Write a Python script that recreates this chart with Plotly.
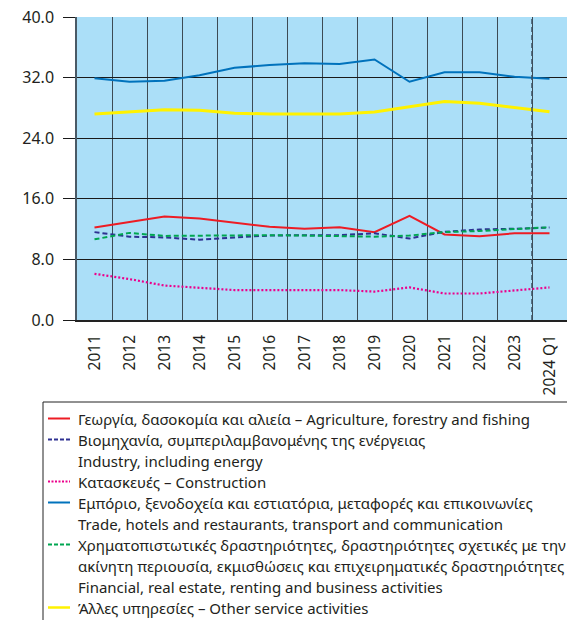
import plotly.graph_objects as go

categories = ["2011", "2012", "2013", "2014", "2015", "2016", "2017", "2018",
              "2019", "2020", "2021", "2022", "2023", "2024 Q1"]

agriculture = [12.2, 12.9, 13.65, 13.4, 12.8, 12.3, 12.05, 12.25, 11.6, 13.75, 11.3, 11.05, 11.45, 11.45]
industry = [11.6, 11.0, 10.9, 10.6, 10.9, 11.15, 11.2, 11.2, 11.45, 10.75, 11.65, 11.95, 12.05, 12.2]
construction = [6.1, 5.4, 4.55, 4.3, 3.95, 3.95, 3.95, 3.95, 3.75, 4.3, 3.5, 3.5, 3.9, 4.3]
trade = [31.9, 31.45, 31.6, 32.3, 33.3, 33.65, 33.9, 33.8, 34.4, 31.45, 32.7, 32.7, 32.1, 31.85]
financial = [10.65, 11.5, 11.1, 11.15, 11.2, 11.2, 11.15, 11.1, 11.0, 11.15, 11.6, 11.75, 12.0, 12.25]
other_services = [27.2, 27.45, 27.75, 27.7, 27.3, 27.2, 27.2, 27.2, 27.45, 28.2, 28.85, 28.6, 28.05, 27.5]

y_ticks = [0, 8, 16, 24, 32, 40]
y_tick_labels = ["0.0", "8.0", "16.0", "24.0", "32.0", "40.0"]

legend_lines = [
    ["Γεωργία, δασοκομία και αλιεία – Agriculture, forestry and fishing"],
    ["Βιομηχανία, συμπεριλαμβανομένης της ενέργειας", "Industry, including energy"],
    ["Κατασκευές – Construction"],
    ["Εμπόριο, ξενοδοχεία και εστιατόρια, μεταφορές και επικοινωνίες",
     "Trade, hotels and restaurants, transport and communication"],
    ["Χρηματοπιστωτικές δραστηριότητες, δραστηριότητες σχετικές με την",
     "ακίνητη περιουσία, εκμισθώσεις και επιχειρηματικές δραστηριότητες",
     "Financial, real estate, renting and business activities"],
    ["Άλλες υπηρεσίες – Other service activities"],
]

series = [
    (agriculture, "#ed1c24", "solid", 2),
    (industry, "#2e3192", "5px,3px", 2),
    (construction, "#ec008c", "2px,2px", 2.2),
    (trade, "#0072bc", "solid", 2),
    (financial, "#00a651", "5px,3px", 2),
    (other_services, "#fff200", "solid", 3),
]

W, H = 567, 620
L, T, R_px, B_px = 77, 17, 567, 320
FONT = "Noto Sans"

fig = go.Figure()
for (vals, color, dash, width), names in zip(series, legend_lines):
    fig.add_trace(go.Scatter(
        x=categories, y=vals, mode="lines", name=" ".join(names),
        line=dict(color=color, dash=dash, width=width), showlegend=False,
        hoverinfo="skip"))

def px_to_paper_x(px):
    return (px - L) / (R_px - L)

def px_to_paper_y(py):
    return (B_px - py) / (B_px - T)

shapes = []
# dashed separator between 2023 and 2024 Q1
shapes.append(dict(type="line", xref="x", yref="paper", x0=12.5, x1=12.5, y0=0, y1=1,
                   line=dict(color="#3d5060", width=1.5, dash="5px,3px"), layer="above"))
# legend box
shapes.append(dict(type="rect", xref="paper", yref="paper",
                   x0=px_to_paper_x(43), x1=px_to_paper_x(600),
                   y0=px_to_paper_y(640), y1=px_to_paper_y(402),
                   line=dict(color="#222222", width=1), fillcolor="white"))

annotations = []
row_y0, row_step = 418.5, 21.0
row = 0
for (vals, color, dash, width), names in zip(series, legend_lines):
    yc = row_y0 + row * row_step
    shapes.append(dict(type="line", xref="paper", yref="paper",
                       x0=px_to_paper_x(48), x1=px_to_paper_x(70),
                       y0=px_to_paper_y(yc), y1=px_to_paper_y(yc),
                       line=dict(color=color, width=width if width < 3 else 2.5,
                                 dash="4px,2px" if dash == "5px,3px" else ("2px,1.5px" if dash == "2px,2px" else dash))))
    for name in names:
        yc = row_y0 + row * row_step
        annotations.append(dict(xref="paper", yref="paper", x=px_to_paper_x(77), y=px_to_paper_y(yc),
                                text=name, showarrow=False, xanchor="left", yanchor="middle",
                                borderpad=0,
                                font=dict(family=FONT, size=15, color="#231f20")))
        row += 1

fig.update_layout(
    width=W, height=H,
    margin=dict(l=L, r=W - R_px, t=T, b=H - B_px, pad=0),
    paper_bgcolor="white", plot_bgcolor="#abdff8",
    font=dict(family=FONT, size=15, color="#231f20"),
    shapes=shapes, annotations=annotations,
    xaxis=dict(type="category", tickson="boundaries", showgrid=True, gridcolor="#3d4b55",
               gridwidth=1.3, ticks="", tickangle=-90, showline=True, linecolor="#222222",
               linewidth=1.5, mirror=False, tickfont=dict(family=FONT, size=15.5),
               ticklabelstandoff=7, range=[-0.5, 13.5], fixedrange=True),
    yaxis=dict(range=[0, 40], tickvals=y_ticks, ticktext=y_tick_labels, showgrid=True,
               gridcolor="#1a1a1a", gridwidth=1.2, ticks="outside", ticklen=12,
               tickcolor="#1a1a1a", tickwidth=1.2, showline=True, linecolor="#4a5a66",
               linewidth=1.5, zeroline=False, tickfont=dict(family=FONT, size=16),
               ticklabelstandoff=6, fixedrange=True),
)

fig.write_html("out.html", config={"displayModeBar": False},
               post_script="document.body.style.margin='0';document.body.style.overflow='hidden';")
